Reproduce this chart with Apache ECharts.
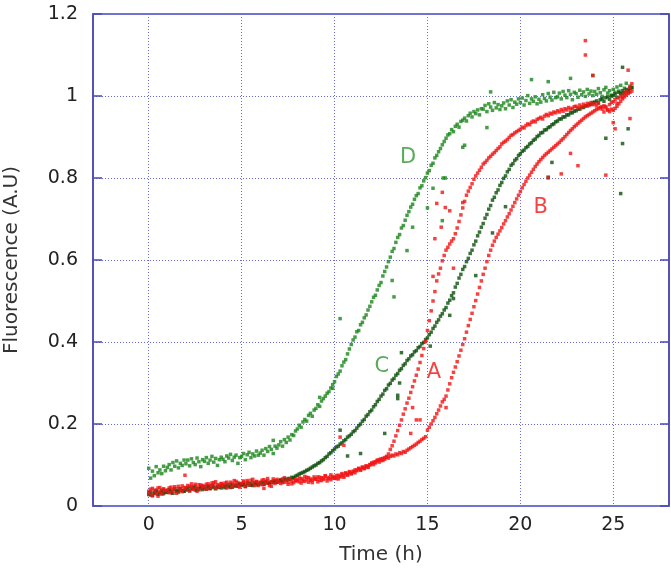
<!DOCTYPE html>
<html>
<head>
<meta charset="utf-8">
<script src="https://cdn.jsdelivr.net/npm/echarts@6/dist/echarts.min.js"></script>
<style>html,body{margin:0;padding:0;background:#fff}#chart{width:671px;height:569px}</style>
</head>
<body>
<div id="chart"></div>
<script>
// Sampling interval of the measurements (hours); samples run 0 .. 26 h
const sampleStepHours = 0.1;
const sampleCount = 261;

const xTicks = [0, 5, 10, 15, 20, 25];

// Curve D (light green), one value per sample
const seriesD = [
0.092,0.068,0.085,0.074,0.096,0.081,0.088,0.079,0.097,0.086,
0.094,0.101,0.088,0.106,0.097,0.11,0.093,0.104,0.099,0.112,
0.103,0.112,0.098,0.115,0.106,0.101,0.117,0.108,0.096,0.113,
0.109,0.118,0.104,0.112,0.121,0.107,0.116,0.099,0.113,0.119,
0.114,0.108,0.122,0.117,0.126,0.111,0.119,0.124,0.104,0.118,
0.121,0.128,0.113,0.125,0.131,0.118,0.127,0.122,0.134,0.124,
0.129,0.136,0.124,0.14,0.133,0.145,0.138,0.128,0.146,0.141,
0.149,0.157,0.146,0.162,0.155,0.168,0.161,0.174,0.172,0.183,
0.188,0.197,0.192,0.205,0.211,0.207,0.221,0.226,0.219,0.234,
0.238,0.247,0.243,0.256,0.262,0.268,0.275,0.279,0.288,0.296,
0.303,0.316,0.322,0.329,0.342,0.351,0.357,0.371,0.383,0.394,
0.405,0.412,0.425,0.428,0.442,0.448,0.459,0.466,0.478,0.487,
0.498,0.509,0.514,0.527,0.538,0.545,0.561,0.572,0.583,0.596,
0.607,0.621,0.628,0.643,0.655,0.662,0.678,0.684,0.697,0.709,
0.718,0.729,0.736,0.748,0.757,0.762,0.776,0.781,0.793,0.801,
0.812,0.818,0.831,0.836,0.849,0.855,0.864,0.872,0.881,0.889,
0.897,0.905,0.908,0.918,0.913,0.926,0.931,0.924,0.938,0.941,
0.946,0.939,0.952,0.958,0.949,0.962,0.957,0.966,0.954,0.969,
0.968,0.977,0.962,0.981,0.973,0.965,0.984,0.971,0.979,0.967,
0.976,0.983,0.969,0.988,0.978,0.991,0.972,0.985,0.98,0.993,
0.984,0.995,0.978,0.989,1.001,0.982,0.993,0.987,0.998,0.981,
0.992,0.985,1.003,0.994,0.988,1.006,0.997,0.99,1.009,0.996,
0.998,1.007,0.993,1.011,1.002,0.996,1.013,1.004,0.991,1.009,
1.006,0.997,1.014,1.003,1.01,0.999,1.016,1.005,1.012,1.001,
1.011,1.004,1.018,1.008,0.999,1.015,1.021,1.007,1.013,1.002,
1.016,1.009,1.022,1.012,1.026,1.005,1.019,1.031,1.014,1.024,
1.02];

// Curve C (dark green)
const seriesC = [
0.028,0.034,0.025,0.031,0.036,0.029,0.033,0.038,0.03,0.035,
0.033,0.039,0.036,0.031,0.041,0.037,0.034,0.042,0.038,0.036,
0.04,0.044,0.037,0.042,0.046,0.039,0.043,0.041,0.047,0.04,
0.044,0.041,0.047,0.043,0.049,0.045,0.042,0.048,0.046,0.044,
0.048,0.045,0.05,0.047,0.052,0.046,0.049,0.051,0.048,0.053,
0.05,0.053,0.049,0.055,0.051,0.054,0.05,0.056,0.052,0.055,
0.054,0.057,0.053,0.058,0.056,0.055,0.059,0.057,0.061,0.058,
0.06,0.063,0.061,0.065,0.064,0.067,0.066,0.07,0.069,0.073,
0.075,0.078,0.08,0.082,0.084,0.087,0.089,0.092,0.095,0.098,
0.1,0.104,0.106,0.11,0.113,0.118,0.121,0.127,0.13,0.135,
0.139,0.144,0.146,0.151,0.154,0.159,0.162,0.168,0.171,0.175,
0.181,0.184,0.19,0.196,0.2,0.207,0.211,0.219,0.223,0.23,
0.234,0.242,0.247,0.255,0.26,0.268,0.273,0.282,0.286,0.295,
0.299,0.307,0.311,0.319,0.323,0.331,0.335,0.343,0.347,0.355,
0.359,0.366,0.369,0.376,0.379,0.386,0.389,0.396,0.399,0.406,
0.41,0.418,0.424,0.433,0.439,0.448,0.454,0.463,0.469,0.478,
0.484,0.495,0.502,0.513,0.52,0.534,0.543,0.556,0.565,0.577,
0.584,0.596,0.604,0.616,0.624,0.637,0.646,0.659,0.668,0.68,
0.689,0.702,0.711,0.724,0.733,0.746,0.753,0.764,0.771,0.782,
0.789,0.799,0.805,0.815,0.821,0.831,0.835,0.843,0.847,0.855,
0.859,0.865,0.868,0.874,0.877,0.883,0.886,0.892,0.895,0.901,
0.904,0.91,0.911,0.917,0.918,0.923,0.925,0.93,0.932,0.937,
0.939,0.944,0.944,0.949,0.949,0.954,0.954,0.959,0.959,0.963,
0.964,0.968,0.968,0.972,0.972,0.976,0.976,0.98,0.98,0.984,
0.985,0.988,0.983,0.991,0.993,0.987,0.996,0.998,0.992,1.0,
1.001,1.005,0.997,1.009,1.006,1.013,1.008,1.016,1.012,1.019,
1.021];

// Curve A (red, steeper)
const seriesA = [
0.032,0.041,0.026,0.038,0.03,0.044,0.035,0.029,0.042,0.037,
0.039,0.033,0.046,0.036,0.043,0.031,0.048,0.04,0.035,0.045,
0.042,0.05,0.037,0.047,0.041,0.053,0.044,0.039,0.051,0.046,
0.048,0.041,0.054,0.045,0.05,0.057,0.043,0.052,0.047,0.055,
0.049,0.056,0.044,0.053,0.058,0.047,0.052,0.06,0.05,0.046,
0.055,0.061,0.049,0.058,0.052,0.063,0.057,0.05,0.06,0.054,
0.058,0.052,0.064,0.056,0.061,0.05,0.059,0.066,0.055,0.062,
0.06,0.055,0.066,0.058,0.063,0.053,0.067,0.061,0.057,0.064,
0.062,0.068,0.056,0.065,0.06,0.07,0.058,0.066,0.063,0.071,
0.065,0.059,0.07,0.062,0.068,0.073,0.061,0.067,0.064,0.072,
0.068,0.074,0.066,0.071,0.077,0.07,0.079,0.075,0.082,0.078,
0.085,0.081,0.088,0.092,0.087,0.095,0.091,0.098,0.094,0.1,
0.105,0.101,0.108,0.112,0.107,0.115,0.111,0.118,0.121,0.127,
0.138,0.147,0.158,0.171,0.184,0.197,0.21,0.224,0.237,0.251,
0.263,0.277,0.291,0.305,0.319,0.334,0.35,0.367,0.384,0.401,
0.428,0.452,0.476,0.5,0.523,0.549,0.566,0.58,0.598,0.611,
0.624,0.631,0.639,0.646,0.652,0.664,0.678,0.694,0.71,0.727,
0.743,0.758,0.768,0.777,0.786,0.797,0.805,0.812,0.819,0.826,
0.834,0.838,0.843,0.849,0.853,0.858,0.862,0.867,0.872,0.876,
0.883,0.887,0.89,0.894,0.899,0.904,0.906,0.91,0.913,0.916,
0.919,0.924,0.922,0.928,0.932,0.93,0.936,0.939,0.937,0.943,
0.945,0.948,0.944,0.951,0.955,0.952,0.958,0.956,0.961,0.959,
0.964,0.961,0.967,0.963,0.969,0.966,0.972,0.968,0.97,0.974,
0.975,0.971,0.978,0.973,0.98,0.976,0.982,0.977,0.984,0.979,
0.981,0.976,0.983,0.972,0.968,0.961,0.974,0.966,0.979,0.984,
0.986,0.991,0.982,0.995,1.0,0.997,1.006,1.012,1.009,1.021,
1.03];

// Curve B (red, later)
const seriesB = [
0.036,0.027,0.043,0.033,0.039,0.024,0.045,0.031,0.04,0.034,
0.037,0.044,0.032,0.041,0.047,0.035,0.042,0.038,0.049,0.036,
0.045,0.039,0.048,0.054,0.043,0.049,0.036,0.052,0.044,0.05,
0.046,0.053,0.049,0.042,0.056,0.051,0.059,0.045,0.05,0.054,
0.052,0.047,0.058,0.051,0.045,0.055,0.062,0.049,0.057,0.053,
0.053,0.058,0.047,0.062,0.056,0.051,0.065,0.055,0.059,0.05,
0.057,0.063,0.054,0.06,0.067,0.056,0.048,0.061,0.058,0.065,
0.059,0.064,0.057,0.069,0.062,0.058,0.065,0.054,0.068,0.061,
0.063,0.059,0.067,0.061,0.072,0.064,0.069,0.062,0.057,0.066,
0.066,0.071,0.063,0.069,0.065,0.074,0.067,0.07,0.076,0.068,
0.07,0.067,0.075,0.072,0.079,0.073,0.081,0.077,0.084,0.08,
0.083,0.088,0.086,0.091,0.089,0.094,0.092,0.097,0.095,0.101,
0.103,0.107,0.105,0.11,0.113,0.111,0.116,0.114,0.119,0.117,
0.121,0.124,0.122,0.127,0.125,0.13,0.128,0.133,0.131,0.136,
0.139,0.142,0.145,0.148,0.151,0.155,0.158,0.162,0.165,0.169,
0.185,0.192,0.2,0.208,0.216,0.225,0.234,0.244,0.254,0.26,
0.268,0.283,0.298,0.313,0.326,0.339,0.352,0.366,0.38,0.394,
0.408,0.424,0.44,0.455,0.47,0.486,0.501,0.517,0.533,0.549,
0.565,0.58,0.596,0.611,0.624,0.636,0.646,0.655,0.663,0.671,
0.679,0.688,0.696,0.705,0.713,0.722,0.731,0.74,0.749,0.758,
0.767,0.776,0.784,0.792,0.8,0.807,0.814,0.821,0.828,0.834,
0.84,0.845,0.85,0.855,0.859,0.863,0.867,0.871,0.875,0.879,
0.883,0.887,0.892,0.896,0.901,0.906,0.911,0.916,0.92,0.925,
0.929,0.933,0.937,0.941,0.945,0.949,0.952,0.955,0.958,0.961,
0.964,0.967,0.969,0.972,0.974,0.976,0.971,0.966,0.962,0.968,
0.965,0.97,0.975,0.981,0.987,0.993,0.998,1.002,1.006,1.009,
1.012];

// Stray readings [time h, value]
const outliersRed = [
[1.95,0.075],[6.2,0.043],[10.3,0.168],[10.5,0.148],[14.1,0.177],[14.2,0.24],[14.4,0.21],[14.6,0.21],
[16.0,0.24],[15.3,0.56],[15.4,0.652],[15.74,0.68],[15.5,0.738],[15.8,0.765],[15.96,0.728],[16.2,0.72],
[16.4,0.58],[16.9,0.74],[21.5,0.8],[22.2,0.81],[22.7,0.86],[23.1,0.83],[24.6,0.807],[25.0,0.935],
[25.1,0.92],[25.9,0.945],[23.5,1.1],[23.5,1.135],[23.9,1.05],[25.8,1.063]];
const outliersC = [
[10.3,0.185],[10.7,0.122],[11.4,0.128],[12.7,0.177],[13.4,0.27],[13.4,0.262],[13.5,0.3],[13.6,0.374],
[15.15,0.39],[16.2,0.465],[16.4,0.506],[17.6,0.562],[18.5,0.666],[19.2,0.73],[21.5,0.802],[21.7,0.838],
[24.6,0.897],[25.4,0.762],[25.5,0.884],[25.8,0.92],[25.5,1.07]];
const outliersD = [
[6.7,0.16],[9.2,0.265],[9.9,0.287],[10.3,0.457],[13.1,0.55],[13.2,0.51],[13.9,0.623],[14.2,0.68],
[15.0,0.727],[15.3,0.775],[15.8,0.696],[15.85,0.8],[15.96,0.8],[16.9,0.875],[17.0,0.88],[18.2,0.923],
[18.4,1.01],[20.6,1.04],[21.5,1.035],[22.7,1.043],[23.9,1.05]];

// Curve annotations
const curveLabels = ['A', 'B', 'C', 'D'];
const curveLabelTimes = [15.35, 21.1, 12.55, 13.96];
const curveLabelValues = [0.326, 0.727, 0.34, 0.85];

const RED = '#f21414', DKGREEN = '#0b4f0b', GREEN = '#1a861a';
const labelColors = [RED, RED, '#2f962f', '#2f962f'];

function toPoints(values) {
  const pts = [];
  for (let i = 0; i < sampleCount; i++) {
    pts.push([Math.round(i * sampleStepHours * 10) / 10, values[i]]);
  }
  return pts;
}

const FONT = 'DejaVu Sans';
const AXIS_COLOR = '#4848b6';
const GRID_LINE = { color: '#6a6ae0', width: 1, type: [1, 2] };

function scatter(name, data, color) {
  return { name, type: 'scatter', data, symbol: 'rect', symbolSize: 3.5,
    itemStyle: { color }, silent: true, animation: false };
}

const chart = echarts.init(document.getElementById('chart'));
chart.setOption({
  backgroundColor: '#ffffff',
  animation: false,
  grid: { left: 93, top: 14, right: 2, bottom: 63, containLabel: false, outerBoundsMode: 'none',
    show: true, borderColor: AXIS_COLOR, borderWidth: 1.5 },
  xAxis: {
    type: 'value', min: -3, max: 28,
    name: 'Time (h)', nameLocation: 'middle', nameGap: 39,
    nameTextStyle: { fontFamily: FONT, fontSize: 20, color: '#333' },
    axisLine: { show: false, onZero: false },
    axisTick: { show: false, customValues: xTicks },
    axisLabel: { customValues: xTicks, fontFamily: FONT, fontSize: 19, color: '#222', margin: 10 },
    splitLine: { show: true, lineStyle: GRID_LINE }
  },
  yAxis: [{
    type: 'value', min: 0, max: 1.2, interval: 0.2,
    name: 'Fluorescence (A.U)', nameLocation: 'middle', nameGap: 71, nameRotate: 90,
    nameTextStyle: { fontFamily: FONT, fontSize: 20, color: '#333' },
    axisLine: { show: true, onZero: false, lineStyle: { color: AXIS_COLOR, width: 1.5 } },
    axisTick: { show: true, inside: true, length: 9, lineStyle: { color: AXIS_COLOR, width: 1.5 } },
    axisLabel: { fontFamily: FONT, fontSize: 19, color: '#222', margin: 15 },
    splitLine: { show: true, lineStyle: GRID_LINE }
  }, {
    type: 'value', min: 0, max: 1.2, interval: 0.2, position: 'right',
    axisLine: { show: true, onZero: false, lineStyle: { color: AXIS_COLOR, width: 1.5 } },
    axisTick: { show: true, inside: true, length: 9, lineStyle: { color: AXIS_COLOR, width: 1.5 } },
    axisLabel: { show: false },
    splitLine: { show: false }
  }],
  series: [
    scatter('D', toPoints(seriesD).concat(outliersD), GREEN),
    scatter('B', toPoints(seriesB), RED),
    scatter('C', toPoints(seriesC).concat(outliersC), DKGREEN),
    scatter('A', toPoints(seriesA).concat(outliersRed), RED),
    {
      type: 'scatter', symbolSize: 0, silent: true, animation: false,
      data: curveLabels.map((n, i) => ({
        name: n, value: [curveLabelTimes[i], curveLabelValues[i]],
        label: { color: labelColors[i] }
      })),
      label: { show: true, position: 'inside', formatter: '{b}', fontFamily: FONT, fontSize: 21 }
    }
  ]
});
</script>
</body>
</html>
